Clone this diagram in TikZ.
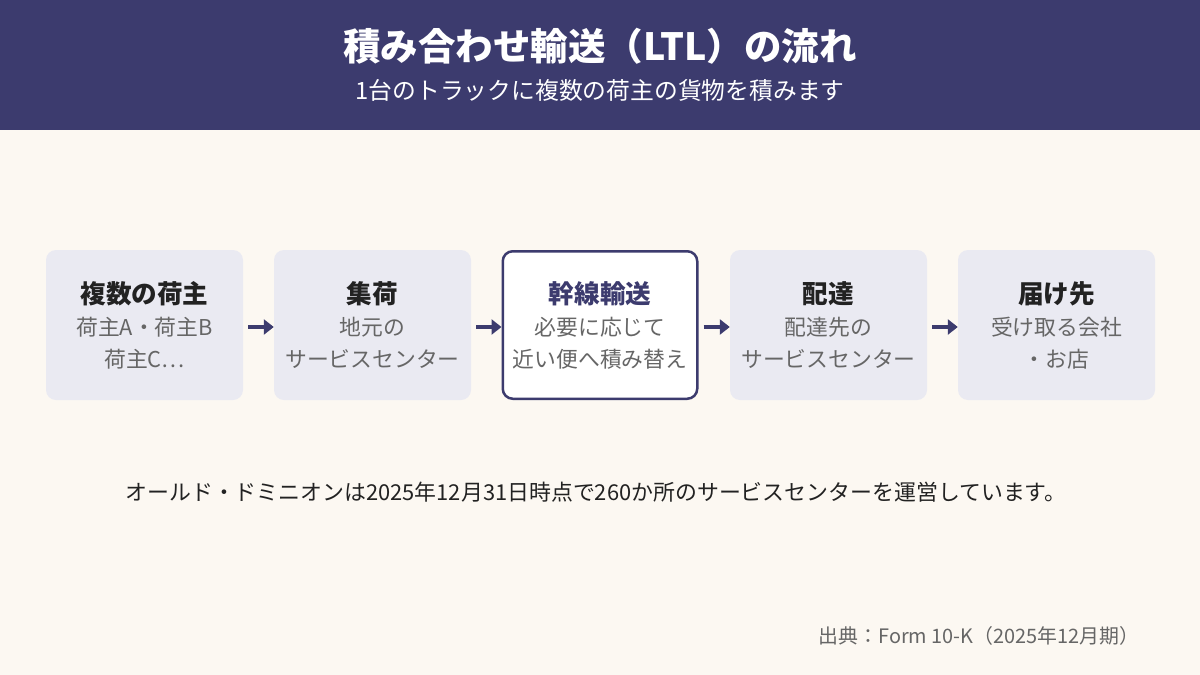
\documentclass[tikz,border=0pt]{standalone}
\usepackage{fontspec}
\setmainfont{Noto Sans CJK JP}
\usetikzlibrary{arrows.meta}
\definecolor{navy}{HTML}{3C3B6E}
\definecolor{cream}{HTML}{FCF8F2}
\definecolor{boxfill}{HTML}{EAEAF2}
\definecolor{dark}{HTML}{222222}
\definecolor{gray6}{HTML}{666666}
\begin{document}
\begin{tikzpicture}[x=1pt,y=-1pt,
  stepbox/.style={rounded corners=10pt,fill=boxfill,minimum width=197pt,minimum height=150pt,inner sep=0pt},
  hibox/.style={rounded corners=10pt,fill=white,draw=navy,line width=2.5pt,minimum width=194.5pt,minimum height=147.5pt,inner sep=0pt},
  ttl/.style={font=\fontsize{25.6}{30}\selectfont\bfseries,text=dark,anchor=center},
  sub/.style={font=\fontsize{21.8}{32}\selectfont,text=gray6,align=center,anchor=center},
  flow/.style={-{Triangle[length=10pt,width=15pt]},line width=4pt,draw=navy,shorten <=5pt}
]
\useasboundingbox (0,0) rectangle (1200,675);
\fill[cream] (0,0) rectangle (1200,675);
\fill[navy] (0,0) rectangle (1200,130);
\node[text=white,font=\fontsize{37.5}{42}\selectfont\bfseries] (title) at (600,46) {積み合わせ輸送（LTL）の流れ};
\node[text=white,font=\fontsize{23.8}{28}\selectfont] (subtitle) at (600,90) {1台のトラックに複数の荷主の貨物を積みます};

\node[stepbox] (b1) at (144.5,325) {};
\node[stepbox] (b2) at (372.5,325) {};
\node[hibox] (b3) at (600,325) {};
\node[stepbox] (b4) at (828.5,325) {};
\node[stepbox] (b5) at (1056.5,325) {};

\node[ttl] (t1) at (144.5,294) {複数の荷主};
\node[sub] (s1) at (144.5,343) {荷主A・荷主B\\荷主C…};
\node[ttl] (t2) at (372.5,294) {集荷};
\node[sub] (s2) at (372.5,343) {地元の\\サービスセンター};
\node[ttl,text=navy] (t3) at (600,294) {幹線輸送};
\node[sub] (s3) at (600,343) {必要に応じて\\近い便へ積み替え};
\node[ttl] (t4) at (828.5,294) {配達};
\node[sub] (s4) at (828.5,343) {配達先の\\サービスセンター};
\node[ttl] (t5) at (1056.5,294) {届け先};
\node[sub] (s5) at (1056.5,343) {受け取る会社\\・お店};

\draw[flow] (b1.east|-0,327) -- (b2.west|-0,327);
\draw[flow] (b2.east|-0,327) -- (b3.west|-0,327);
\draw[flow] (b3.east|-0,327) -- (b4.west|-0,327);
\draw[flow] (b4.east|-0,327) -- (b5.west|-0,327);

\node[text=dark,font=\fontsize{21.9}{26}\selectfont] (note) at (596,492) {オールド・ドミニオンは2025年12月31日時点で260か所のサービスセンターを運営しています。};
\node[text=gray6,font=\fontsize{19.9}{24}\selectfont,anchor=east] (src) at (1143,636) {出典：Form 10-K（2025年12月期）};
\end{tikzpicture}
\end{document}
